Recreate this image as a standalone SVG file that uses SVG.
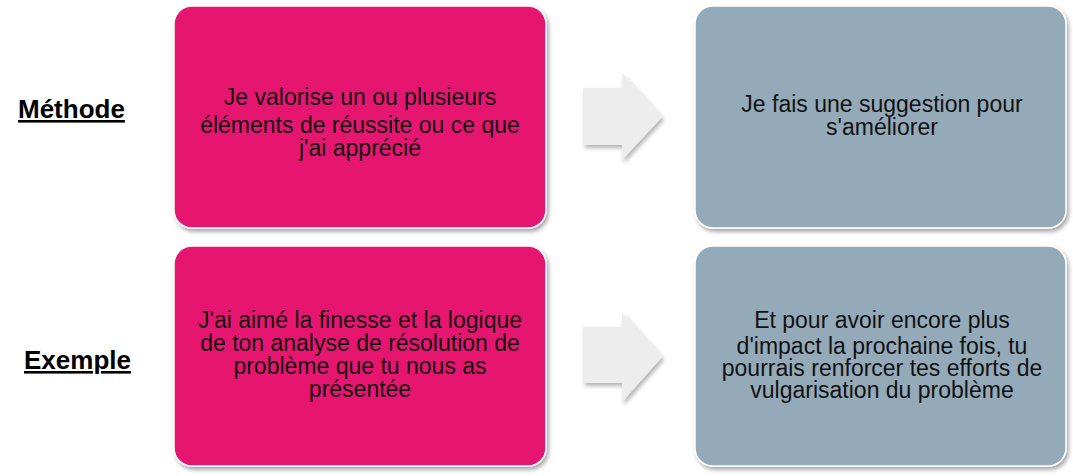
<svg xmlns="http://www.w3.org/2000/svg" width="1073" height="476" viewBox="0 0 1073 476">
<defs>
<filter id="sh" x="-10%" y="-10%" width="125%" height="125%">
<feDropShadow dx="2" dy="3" stdDeviation="2" flood-color="#000" flood-opacity="0.35"/>
</filter>
<filter id="sha" x="-20%" y="-20%" width="150%" height="150%">
<feDropShadow dx="2" dy="3" stdDeviation="2" flood-color="#000" flood-opacity="0.3"/>
</filter>
</defs>
<style>
.pink{fill:#E6196F;stroke:#fff;stroke-width:1.5;filter:url(#sh)}
.gray{fill:#94AAB9;stroke:#fff;stroke-width:1.5;filter:url(#sh)}
.arr{fill:#EDEDED;filter:url(#sha)}
.t{font-family:"Liberation Sans",Arial,sans-serif;font-size:23px;fill:#111;text-anchor:middle}
.lab{font-family:"Liberation Sans",Arial,sans-serif;font-size:26px;font-weight:bold;fill:#000;text-decoration:underline}
</style>
<rect width="1073" height="476" fill="#fff"/>
<g id="label-methode"><text class="lab" x="18" y="118">Méthode</text></g>
<g id="label-exemple"><text class="lab" x="24" y="369">Exemple</text></g>
<g id="connectors">
<path class="arr" d="M583,88 L622,88 L622,73 L662,117 L622,160 L622,145 L583,145 Z"/>
<path class="arr" d="M583,327 L622,327 L622,312 L662,357 L622,402 L622,383 L583,383 Z"/>
</g>
<g id="node-method-praise">
<rect class="pink" x="174" y="6" width="372" height="222" rx="18"/>
<text class="t" x="360" y="105">Je valorise un ou plusieurs</text>
<text class="t" x="360" y="133">éléments de réussite ou ce que</text>
<text class="t" x="360" y="156">j'ai apprécié</text>
</g>
<g id="node-method-suggest">
<rect class="gray" x="695" y="6" width="371" height="222" rx="18"/>
<text class="t" x="882" y="112">Je fais une suggestion pour</text>
<text class="t" x="882" y="135">s'améliorer</text>
</g>
<g id="node-example-praise">
<rect class="pink" x="174" y="246" width="372" height="220" rx="18"/>
<text class="t" x="360" y="328">J'ai aimé la finesse et la logique</text>
<text class="t" x="360" y="351">de ton analyse de résolution de</text>
<text class="t" x="360" y="374">problème que tu nous as</text>
<text class="t" x="360" y="397">présentée</text>
</g>
<g id="node-example-suggest">
<rect class="gray" x="695" y="246" width="371" height="220" rx="18"/>
<text class="t" x="882" y="328">Et pour avoir encore plus</text>
<text class="t" x="882" y="354">d'impact la prochaine fois, tu</text>
<text class="t" x="882" y="376">pourrais renforcer tes efforts de</text>
<text class="t" x="882" y="398">vulgarisation du problème</text>
</g>
</svg>
